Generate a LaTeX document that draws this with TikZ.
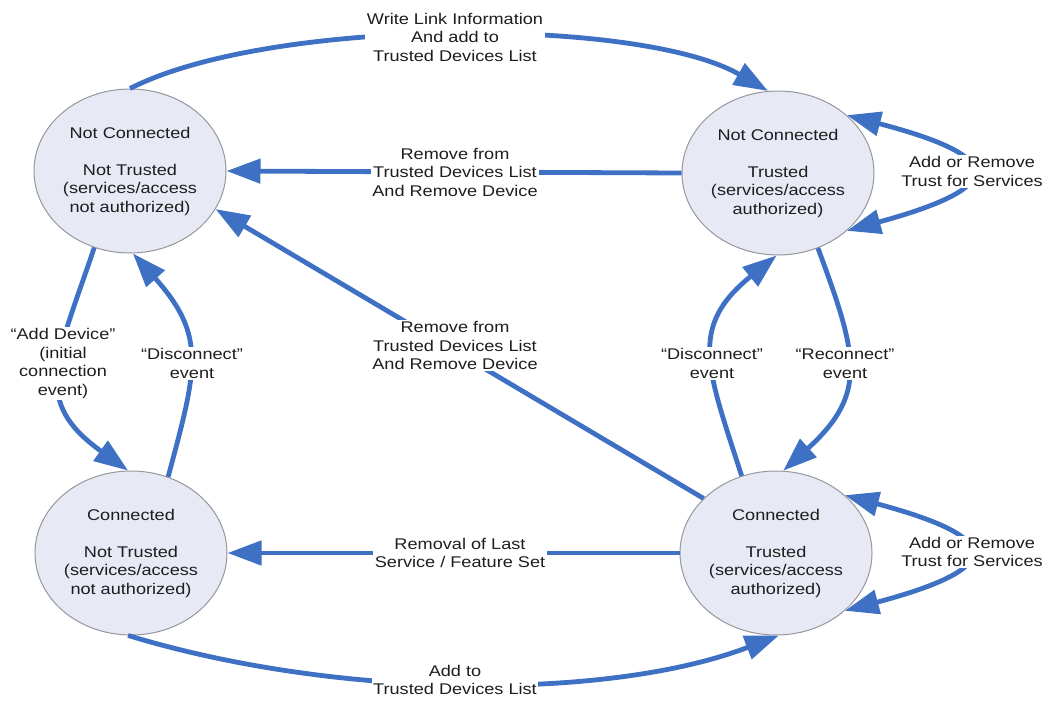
\documentclass[tikz,border=0pt]{standalone}
\usepackage{fontspec}
\setmainfont{Liberation Sans}[FakeStretch=1.17]
\usetikzlibrary{shapes.geometric,arrows.meta}
\definecolor{flowblue}{RGB}{62,112,196}
\definecolor{statefill}{RGB}{231,234,245}
\definecolor{stateline}{RGB}{150,150,158}
\definecolor{labeltext}{RGB}{30,30,30}
\begin{document}
\begin{tikzpicture}[x=1pt,y=-1pt,
  font=\fontsize{15.5}{18.5}\selectfont,
  state/.style={ellipse, draw=stateline, line width=1pt, fill=statefill,
    minimum width=192pt, minimum height=164pt, inner sep=0pt,
    align=center, text=labeltext},
  flow/.style={draw=flowblue, line width=4.8pt,
    -{Triangle[length=34pt,width=24pt]}},
  twoway/.style={draw=flowblue, line width=4.8pt,
    {Triangle[length=34pt,width=24pt]}-{Triangle[length=34pt,width=24pt]}},
  lbl/.style={fill=white, inner sep=1.5pt, align=center, text=labeltext}]
\useasboundingbox (0,0) rectangle (1050,707);

% the four connection / trust states
\node[state] (ncu) at (130,171) {Not Connected\\[18.5pt]Not Trusted\\(services/access\\not authorized)};
\node[state] (nct) at (778,173) {Not Connected\\[18.5pt]Trusted\\(services/access\\authorized)};
\node[state] (cu)  at (131,553) {Connected\\[18.5pt]Not Trusted\\(services/access\\not authorized)};
\node[state] (ct)  at (776,553) {Connected\\[18.5pt]Trusted\\(services/access\\authorized)};

% transitions
\draw[flow] (ncu.north) .. controls (270,17) and (640,17) .. (nct.97);
\draw[flow] (nct.west) -- (ncu.east);
\draw[flow] (ct.143.6) -- (ncu.-24);
\draw[flow] (ct.west) -- (cu.east);
\draw[flow] (cu.-92) .. controls (340,700) and (610,700) .. (ct.-88);
\draw[flow] (ncu.-115.7) .. controls (56,361) and (31,401) .. (cu.92);
\draw[flow] (cu.64.6) .. controls (197,369) and (207,336) .. (ncu.-88);
\draw[flow] (ct.114) .. controls (707,368) and (688,327) .. (nct.-91);
\draw[flow] (nct.-62) .. controls (858,356) and (868,394) .. (ct.85);
\draw[twoway] (nct.40) .. controls (1007,157) and (1007,187) .. (nct.-40);
\draw[twoway] (ct.40) .. controls (1005,538) and (1005,568) .. (ct.-40);

% transition labels
\node[lbl] (lwrite)  at (455,37)    {Write Link Information\\And add to\\Trusted Devices List};
\node[lbl] (lremtop) at (455,172)   {Remove from\\Trusted Devices List\\And Remove Device};
\node[lbl] (lremdia) at (455,345.5) {Remove from\\Trusted Devices List\\And Remove Device};
\node[lbl] (lremlast) at (460,553)  {Removal of Last\\Service / Feature Set};
\node[lbl] (laddtrust) at (455,680) {Add to\\Trusted Devices List};
\node[lbl] (ladddev) at (63,363.5)  {“Add Device”\\(initial\\connection\\event)};
\node[lbl] (ldiscl)  at (192,363.5) {“Disconnect”\\event};
\node[lbl] (ldiscr)  at (712,363.5) {“Disconnect”\\event};
\node[lbl] (lreconn) at (845,363.5) {“Reconnect”\\event};
\node[lbl] (ltrusttop) at (972,171.5) {Add or Remove\\Trust for Services};
\node[lbl] (ltrustbot) at (972,552)   {Add or Remove\\Trust for Services};
\end{tikzpicture}
\end{document}
